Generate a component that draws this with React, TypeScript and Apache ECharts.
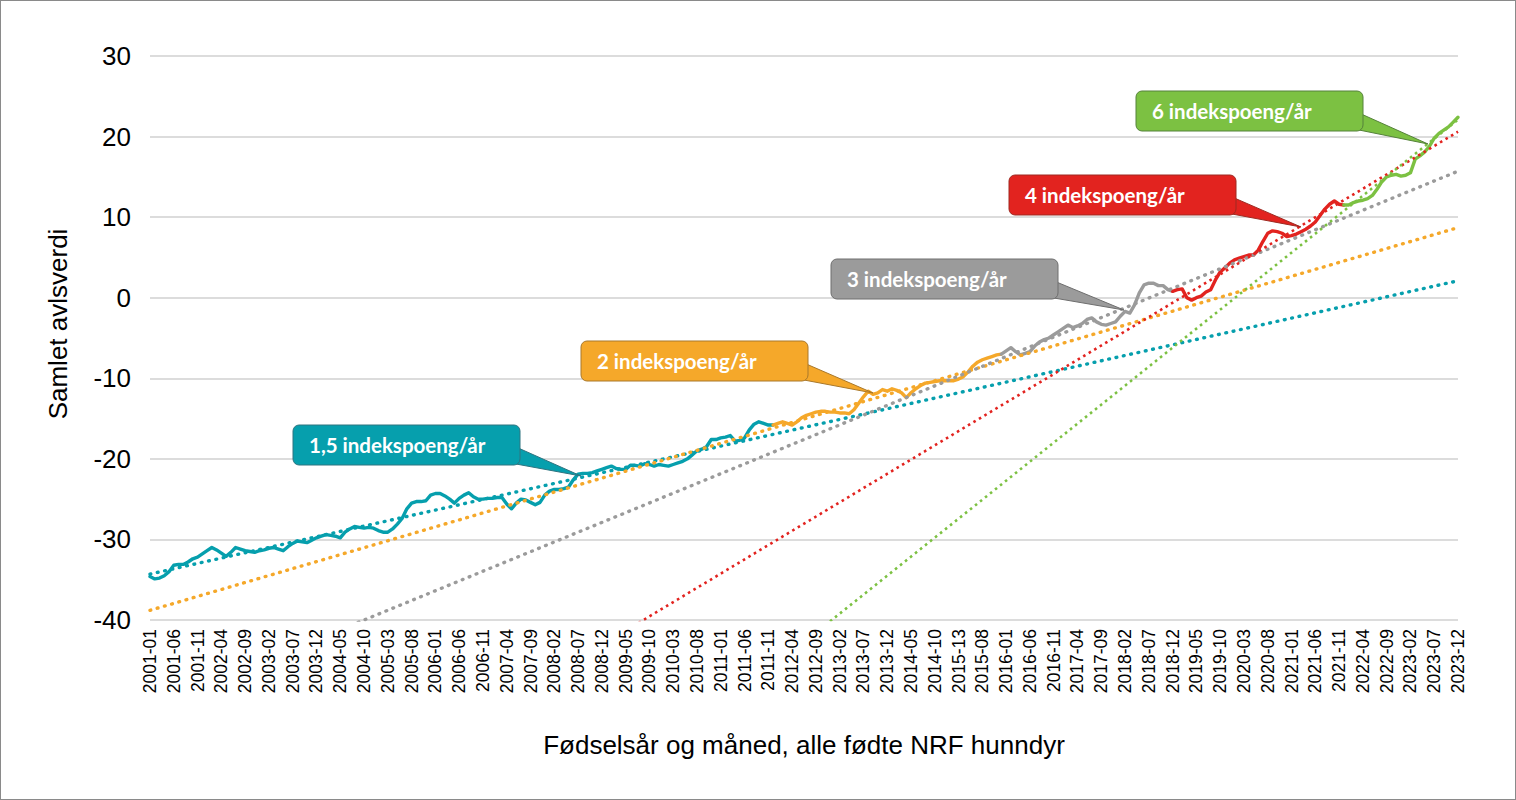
import React, { useEffect, useRef } from "react";
import * as echarts from "echarts";

// ---------- DATA ----------
const firstYear = 2001;
const lastYear = 2023;
const categories: string[] = [];
for (let y = firstYear; y <= lastYear; y++) {
  for (let m = 1; m <= 12; m++) categories.push(`${y}-${String(m).padStart(2, "0")}`);
}
categories[170] = "2015-13"; // label as printed in the reference

// Samlet avlsverdi per month
const values: number[] = [
  -34.6, -34.9, -34.8, -34.5, -34.0, -33.2, -33.1, -33.1, -32.8, -32.4, -32.2, -31.8, // 2001
  -31.4, -31.0, -31.3, -31.7, -32.1, -31.6, -31.0, -31.2, -31.4, -31.5, -31.6, -31.4, // 2002
  -31.3, -31.1, -31.0, -31.2, -31.4, -30.9, -30.5, -30.2, -30.3, -30.4, -30.1, -29.8, // 2003
  -29.6, -29.4, -29.5, -29.6, -29.8, -29.1, -28.7, -28.4, -28.5, -28.6, -28.5, -28.6, // 2004
  -28.9, -29.1, -29.1, -28.7, -28.1, -27.4, -26.2, -25.5, -25.3, -25.3, -25.2, -24.5, // 2005
  -24.3, -24.3, -24.6, -25.0, -25.5, -24.9, -24.5, -24.2, -24.7, -25.0, -25.0, -24.9, // 2006
  -24.9, -24.8, -24.8, -25.6, -26.2, -25.5, -25.0, -25.1, -25.4, -25.7, -25.4, -24.5, // 2007
  -24.0, -23.8, -23.8, -23.7, -23.5, -22.6, -21.9, -21.8, -21.8, -21.7, -21.5, -21.3, // 2008
  -21.1, -20.9, -21.2, -21.3, -21.3, -20.8, -20.8, -20.9, -20.6, -20.7, -20.9, -20.7, // 2009
  -20.8, -20.9, -20.7, -20.5, -20.3, -20.0, -19.5, -19.0, -18.8, -18.5, -17.6, -17.6, // 2010
  -17.4, -17.3, -17.1, -17.8, -17.7, -17.4, -16.4, -15.7, -15.4, -15.6, -15.8, -15.8, // 2011
  -15.6, -15.4, -15.6, -15.8, -15.4, -14.9, -14.6, -14.4, -14.2, -14.1, -14.1, -14.2, // 2012
  -14.2, -14.3, -14.3, -14.4, -13.9, -13.1, -12.3, -11.6, -12.0, -11.8, -11.4, -11.6, // 2013
  -11.3, -11.5, -11.8, -12.4, -11.8, -11.3, -10.9, -10.6, -10.5, -10.4, -10.3, -10.3, // 2014
  -10.3, -10.3, -10.1, -9.8, -9.2, -8.5, -8.0, -7.7, -7.5, -7.3, -7.1, -7.0, // 2015
  -6.6, -6.2, -6.7, -7.1, -6.9, -6.7, -6.0, -5.5, -5.2, -5.0, -4.6, -4.2, // 2016
  -3.8, -3.4, -3.7, -3.5, -3.2, -2.7, -2.5, -3.0, -3.3, -3.4, -3.2, -3.0, // 2017
  -2.3, -1.7, -1.9, -0.9, 0.6, 1.6, 1.8, 1.8, 1.5, 1.5, 1.0, 0.8, // 2018
  1.0, 1.1, 0.0, -0.3, 0.0, 0.2, 0.7, 1.0, 2.2, 3.2, 3.7, 4.3, // 2019
  4.7, 4.9, 5.1, 5.3, 5.3, 5.9, 7.0, 8.0, 8.3, 8.2, 8.0, 7.6, // 2020
  7.7, 7.9, 8.2, 8.5, 8.9, 9.4, 10.2, 11.0, 11.6, 12.0, 11.6, 11.5, // 2021
  11.5, 11.8, 12.0, 12.1, 12.3, 12.7, 13.5, 14.4, 15.0, 15.2, 15.3, 15.1, // 2022
  15.2, 15.5, 17.2, 17.6, 18.1, 18.8, 19.8, 20.4, 20.8, 21.2, 21.8, 22.4, // 2023
];

// Colour periods (start year of each segment)
const segmentStartYears = [2001, 2012, 2016, 2019, 2022];
const segmentColors = ["#069FAD", "#F5A82A", "#9B9B9B", "#E2231F", "#7CC142"];
const calloutBorder = ["#2E7480", "#A9782A", "#6E6E6E", "#9E2A22", "#55823A"];

// Linear trend lines: value at first and at last month
const trendLabels = [
  "1,5 indekspoeng/år",
  "2 indekspoeng/år",
  "3 indekspoeng/år",
  "4 indekspoeng/år",
  "6 indekspoeng/år",
];
const trendStart = [-34.3, -38.8, -50.9, -76.7, -107.6];
const trendEnd = [2.1, 8.7, 15.7, 20.6, 22.1];

const yTicks = { min: -40, max: 30, interval: 10 };

// ---------- LAYOUT (pixels) ----------
const calloutBoxes = [
  { x: 292, y: 424, tipX: 580, tipY: 475 },
  { x: 580, y: 340, tipX: 872, tipY: 392 },
  { x: 830, y: 258, tipX: 1123, tipY: 309 },
  { x: 1008, y: 174, tipX: 1300, tipY: 226 },
  { x: 1135, y: 90, tipX: 1427, tipY: 143 },
];
const BOX_W = 227;
const BOX_H = 40;

export default function App() {
  const ref = useRef<HTMLDivElement>(null);

  useEffect(() => {
    document.body.style.margin = "0";
    if (!ref.current) return;
    const chart = echarts.init(ref.current, undefined, { renderer: "svg" });
    const last = categories.length - 1;

    const solidSeries = segmentStartYears.map((sy, k) => {
      const startIdx = (sy - firstYear) * 12 - (k > 0 ? 1 : 0);
      const endIdx =
        k < segmentStartYears.length - 1 ? (segmentStartYears[k + 1] - firstYear) * 12 - 1 : last;
      return {
        type: "line",
        name: "seg" + k,
        data: values.map((v, i) => (i >= startIdx && i <= endIdx ? v : null)),
        symbol: "none",
        connectNulls: false,
        lineStyle: { color: segmentColors[k], width: 3.4, join: "round", cap: "round" },
        z: 2,
      };
    });

    const trendSeries = trendLabels.map((lab, k) => {
      const round = k < 3;
      return {
        type: "line",
        name: lab,
        data: [
          [categories[0], trendStart[k]],
          [categories[last], trendEnd[k]],
        ],
        symbol: "none",
        clip: true,
        lineStyle: {
          color: segmentColors[k],
          width: round ? 3.4 : 2.6,
          type: round ? [0.8, 6.7] : [2.6, 3.8],
          cap: round ? "round" : "butt",
        },
        z: 3,
      };
    });

    const graphics: any[] = [];
    calloutBoxes.forEach((b, k) => {
      const rx = b.x + BOX_W;
      graphics.push({
        type: "polygon",
        z: 100,
        shape: {
          points: [
            [rx - 4, b.y + 22],
            [rx - 4, b.y + BOX_H - 1],
            [b.tipX, b.tipY],
          ],
        },
        style: { fill: segmentColors[k], stroke: calloutBorder[k], lineWidth: 1 },
      });
      graphics.push({
        type: "rect",
        z: 101,
        shape: { x: b.x, y: b.y, width: BOX_W, height: BOX_H, r: 6 },
        style: { fill: segmentColors[k], stroke: calloutBorder[k], lineWidth: 1 },
      });
      graphics.push({
        type: "text",
        z: 102,
        x: b.x + 16,
        y: b.y + BOX_H / 2,
        style: {
          text: trendLabels[k],
          fill: "#ffffff",
          fontFamily: "Lato",
          fontWeight: "bold",
          fontSize: 20.5,
          align: "left",
          verticalAlign: "middle",
          textAlign: "left",
          textVerticalAlign: "middle",
        },
      });
    });
    graphics.push({
      type: "text",
      x: 57,
      y: 323,
      rotation: Math.PI / 2,
      style: {
        text: "Samlet avlsverdi",
        fill: "#000",
        fontFamily: "Liberation Sans, Arial",
        fontSize: 26,
        align: "center",
        verticalAlign: "middle",
        textAlign: "center",
        textVerticalAlign: "middle",
      },
    });

    chart.setOption({
      animation: false,
      backgroundColor: "#ffffff",
      grid: { left: 149, right: 57, top: 55, bottom: 179, containLabel: false },
      xAxis: {
        type: "category",
        data: categories,
        boundaryGap: false,
        axisLine: { show: false },
        axisTick: { show: false },
        axisLabel: {
          interval: 4,
          rotate: 90,
          margin: 9,
          fontSize: 17.5,
          color: "#000",
          fontFamily: "Liberation Sans, Arial",
        },
        splitLine: { show: false },
        name: "Fødselsår og måned, alle fødte NRF hunndyr",
        nameLocation: "middle",
        nameGap: 112,
        nameTextStyle: { fontSize: 26, color: "#000", fontFamily: "Liberation Sans, Arial" },
      },
      yAxis: {
        type: "value",
        min: yTicks.min,
        max: yTicks.max,
        interval: yTicks.interval,
        axisLine: { show: false },
        axisTick: { show: false },
        axisLabel: {
          margin: 19,
          fontSize: 26,
          color: "#000",
          fontFamily: "Liberation Sans, Arial",
        },
        splitLine: { show: true, lineStyle: { color: "#D0D0D0", width: 1.6 } },
      },
      series: [...solidSeries, ...trendSeries],
      graphic: { elements: graphics },
    });

    return () => chart.dispose();
  }, []);

  return (
    <div
      style={{
        width: 1516,
        height: 800,
        boxSizing: "border-box",
        border: "1px solid #8a8a8a",
        background: "#fff",
      }}
    >
      <div ref={ref} style={{ width: 1514, height: 798 }} />
    </div>
  );
}
